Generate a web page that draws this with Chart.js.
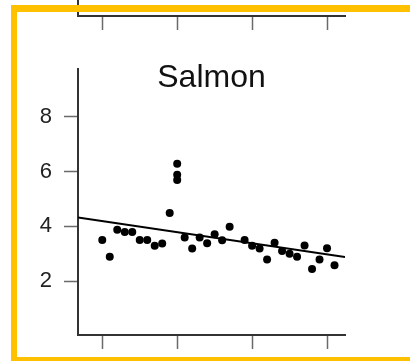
<!DOCTYPE html>
<html>
<head>
<meta charset="utf-8">
<script src="https://cdn.jsdelivr.net/npm/chart.js@4/dist/chart.umd.min.js"></script>
<style>
  html, body { margin: 0; padding: 0; background: #fff; overflow: hidden; }
  body { width: 410px; height: 361px; position: relative; }
  #topPanel { position: absolute; left: 0; top: 0; width: 410px; height: 40px; }
  #mainPanel { position: absolute; left: 0; top: 0; width: 410px; height: 361px; }
  .edge { position: absolute; background: #FFC000; pointer-events: none; }
  #edgeTop { left: 11px; top: 5px; width: 399px; height: 7px; }
  #edgeLeft { left: 11px; top: 5px; width: 6px; height: 356px; }
  #edgeBottom { left: 11px; top: 357px; width: 399px; height: 4px; }
</style>
</head>
<body>
<div id="topPanel"><canvas id="upperChart"></canvas></div>
<div id="mainPanel"><canvas id="salmonChart"></canvas></div>
<div class="edge" id="edgeTop"></div>
<div class="edge" id="edgeLeft"></div>
<div class="edge" id="edgeBottom"></div>
<script>
// Yearly salmon observations (1980 has three records, 1988 none)
const years = [1970, 1971, 1972, 1973, 1974, 1975, 1976, 1977, 1978, 1979,
               1980, 1980, 1980, 1981, 1982, 1983, 1984, 1985, 1986, 1987,
               1989, 1990, 1991, 1992, 1993, 1994, 1995, 1996, 1997, 1998,
               1999, 2000, 2001];
const salmon = [3.50, 2.89, 3.88, 3.79, 3.79, 3.50, 3.50, 3.29, 3.37, 4.49,
                6.29, 5.89, 5.69, 3.59, 3.19, 3.59, 3.38, 3.71, 3.49, 3.99,
                3.50, 3.29, 3.19, 2.79, 3.40, 3.10, 3.00, 2.89, 3.30, 2.44,
                2.79, 3.20, 2.58];

// Trend line end points
const fitYears = [1966.76, 2002.4];
const fitValues = [4.32, 2.88];

// Axis extents and tick positions
const xRange = [1966.76, 2002.4];
const yRange = [0.03, 9.75];
const xTicks = [1970, 1980, 1990, 2000];
const yTicks = [2, 4, 6, 8];

const FONT = "'Liberation Sans', Arial, Helvetica, sans-serif";
const AXIS_COLOR = '#333';
const TICK_COLOR = '#6a6a6a';

function xAxis(height) {
  return {
    type: 'linear',
    min: xRange[0], max: xRange[1],
    afterBuildTicks: s => { s.ticks = xTicks.map(v => ({ value: v })); },
    afterFit: s => { s.height = height; },
    ticks: { display: false },
    grid: { drawOnChartArea: false, drawTicks: true, tickLength: 14, tickWidth: 1.5, tickColor: TICK_COLOR },
    border: { display: true, color: AXIS_COLOR, width: 2 }
  };
}

// Bottom edge of the panel above
new Chart(document.getElementById('upperChart'), {
  type: 'scatter',
  data: { datasets: [{ data: [] }] },
  options: {
    responsive: true, maintainAspectRatio: false, animation: false,
    layout: { padding: { left: 0, right: 65, top: 0, bottom: 0 } },
    plugins: { legend: { display: false }, tooltip: { enabled: false }, title: { display: false } },
    scales: {
      x: xAxis(24),
      y: {
        min: 0, max: 1,
        afterFit: s => { s.width = 78; },
        ticks: { display: false },
        grid: { display: false },
        border: { display: true, color: AXIS_COLOR, width: 2 }
      }
    }
  }
});

// Salmon panel
new Chart(document.getElementById('salmonChart'), {
  type: 'scatter',
  data: {
    datasets: [
      {
        label: 'Trend',
        showLine: true,
        data: fitYears.map((x, i) => ({ x, y: fitValues[i] })),
        borderColor: '#000',
        borderWidth: 2,
        pointRadius: 0,
        order: 0
      },
      {
        label: 'Salmon',
        data: years.map((x, i) => ({ x, y: salmon[i] })),
        backgroundColor: '#000',
        borderWidth: 0,
        pointRadius: 4,
        order: 1
      }
    ]
  },
  options: {
    responsive: true, maintainAspectRatio: false, animation: false,
    layout: { padding: { left: 0, right: 65, top: 0, bottom: 0 } },
    plugins: {
      legend: { display: false },
      tooltip: { enabled: false },
      title: {
        display: true,
        text: 'Salmon',
        fullSize: false,
        color: '#111',
        font: { family: FONT, size: 32, weight: 'normal' },
        padding: { top: 58.5, bottom: -27.9 }
      }
    },
    scales: {
      x: xAxis(26),
      y: {
        type: 'linear',
        min: yRange[0], max: yRange[1],
        afterBuildTicks: s => { s.ticks = yTicks.map(v => ({ value: v })); },
        afterFit: s => { s.width = 78; },
        ticks: { color: '#222', font: { family: FONT, size: 22 }, padding: 12 },
        grid: { drawOnChartArea: false, drawTicks: true, tickLength: 14, tickWidth: 1.5, tickColor: TICK_COLOR },
        border: { display: true, color: AXIS_COLOR, width: 2 }
      }
    }
  }
});
</script>
</body>
</html>
